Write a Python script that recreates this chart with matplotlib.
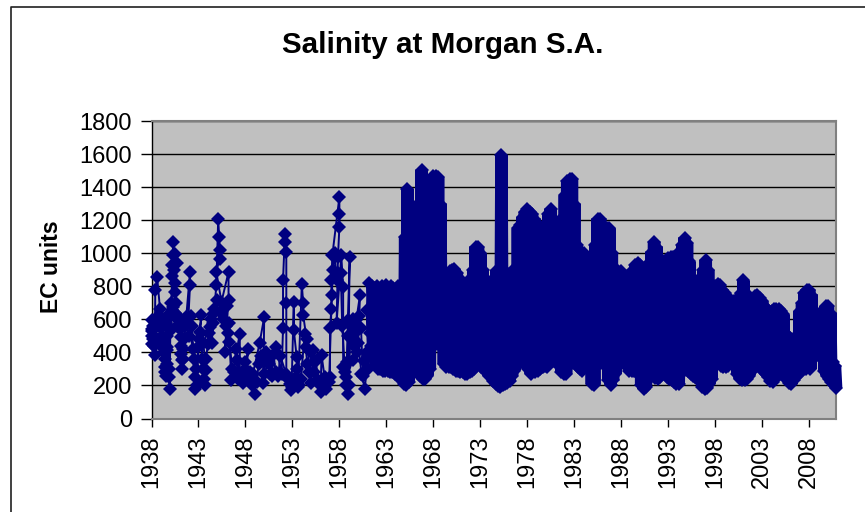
#!/usr/bin/env python3
# -*- coding: utf-8 -*-
import numpy as np
import matplotlib
matplotlib.use("Agg")
import matplotlib.pyplot as plt
from matplotlib.lines import Line2D

plt.rcParams['font.family'] = ['Liberation Sans', 'DejaVu Sans']

navy = '#000080'

# early readings, spaced out enough to see single points
early_years = [1938.0, 1938.1, 1938.15, 1938.35, 1938.4, 1938.6, 1938.9, 1939.0, 1939.2, 1939.4,
               1939.5, 1939.7, 1939.85, 1939.95, 1940.0, 1940.1, 1940.3, 1940.45, 1940.2, 1940.7,
               1940.55, 1940.25, 1940.15, 1940.7, 1941.1, 1941.2, 1941.7, 1942.1, 1942.1, 1941.9,
               1942.4, 1942.6, 1943.3, 1943.15, 1943.7, 1943.85, 1943.5, 1944.2, 1944.55, 1944.4,
               1944.9, 1945.1, 1945.2, 1945.25, 1945.25, 1944.9, 1945.45, 1946.2, 1946.2, 1945.8,
               1946.2, 1946.5, 1947.4, 1947.4, 1947.05, 1947.75, 1948.3, 1948.1, 1949.0, 1948.8,
               1949.5, 1950.0, 1949.9, 1950.4, 1950.6, 1951.3, 1951.85, 1952.0, 1952.0, 1952.2,
               1952.2, 1952.35, 1952.35, 1952.35, 1952.9, 1953.15, 1953.15, 1953.45, 1953.6, 1954.0,
               1954.15, 1954.15, 1954.5, 1955.0, 1955.2, 1956.0, 1956.1, 1956.6, 1957.0, 1957.0,
               1957.15, 1957.15, 1957.25, 1958.0, 1958.0, 1958.0, 1957.85, 1957.7, 1958.2, 1958.4,
               1958.4, 1958.9, 1959.1, 1958.9, 1958.75, 1959.45, 1959.8, 1960.2, 1960.0, 1960.35,
               1960.7, 1961.05, 1960.9, 1961.2]
early_ec = [595, 530, 480, 385, 776, 857, 665, 495, 600, 312,
            575, 413, 250, 180, 535, 535, 1069, 998, 928, 938,
            766, 675, 655, 600, 494, 353, 615, 887, 807, 575,
            423, 181, 625, 525, 200, 292, 454, 555, 635, 454,
            807, 1210, 1100, 1018, 968, 887, 706, 887, 716, 403,
            575, 232, 514, 250, 353, 212, 423, 292, 151, 272,
            454, 615, 212, 363, 272, 434, 272, 545, 837, 1115,
            1069, 1008, 696, 272, 171, 706, 535, 373, 191, 811,
            696, 625, 484, 212, 413, 161, 383, 181, 252, 545,
            665, 837, 988, 1341, 1236, 1160, 978, 575, 988, 797,
            313, 151, 978, 595, 252, 353, 595, 750, 454, 272,
            181, 373, 656, 817]

# the clumps between the peaks in the same years
clump_years = [1938.0, 1938.05, 1938.1, 1938.2, 1938.25, 1938.3, 1938.5, 1938.7, 1938.8, 1939.0, 1939.1,
               1939.3, 1939.35, 1939.4, 1939.45, 1939.55, 1939.6, 1939.65, 1939.7, 1939.75, 1939.85,
               1940.0, 1940.1, 1940.2, 1940.25, 1940.35, 1940.45, 1940.55, 1940.6, 1940.7, 1940.8, 1940.9,
               1941.0, 1941.1, 1941.15, 1941.2, 1941.3, 1941.4, 1941.5, 1941.6,
               1942.0, 1942.2, 1942.3, 1942.5, 1942.6, 1942.75, 1942.85, 1943.0, 1943.1, 1943.3, 1943.4,
               1943.5, 1943.6, 1943.8, 1944.0, 1944.1, 1944.3, 1944.5, 1944.7,
               1945.0, 1945.4, 1945.6, 1945.9, 1946.0, 1946.1, 1946.3, 1946.6, 1946.8,
               1947.0, 1947.2, 1947.6, 1947.9, 1948.0, 1948.3, 1948.5, 1948.7, 1949.2, 1949.4, 1949.7,
               1950.0, 1950.2, 1950.5, 1950.8, 1951.0, 1951.2, 1951.5, 1951.7,
               1952.5, 1952.7, 1953.0, 1953.4, 1953.5, 1953.7, 1953.9,
               1954.3, 1954.4, 1954.6, 1954.8, 1955.0, 1955.3, 1955.5, 1955.7, 1955.9, 1956.3, 1956.5, 1956.9,
               1957.2, 1957.3, 1957.5, 1957.7, 1957.9, 1958.15, 1958.3, 1958.6, 1958.7, 1958.8, 1958.95, 1959.0,
               1959.2, 1959.3, 1959.5, 1959.6, 1959.7, 1959.9, 1960.1, 1960.3, 1960.5, 1960.6, 1960.9, 1961.0,
               1961.3, 1961.4]
clump_ec = [540, 500, 450, 560, 500, 440, 590, 620, 560, 440, 470,
            460, 400, 360, 280, 260, 330, 430, 500, 560, 300,
            640, 700, 860, 990, 900, 820, 640, 700, 560, 620, 600,
            540, 440, 390, 300, 420, 360, 480, 560,
            500, 620, 560, 360, 250, 300, 200, 430, 480, 520, 360,
            300, 240, 360, 450, 520, 600, 580, 660,
            720, 640, 600, 560, 680, 520, 460, 300, 280,
            420, 240, 260, 300, 340, 250, 280, 200, 220, 330, 380,
            270, 400, 330, 260, 390, 280, 260, 380,
            240, 210, 190, 250, 300, 200, 240,
            510, 430, 330, 280, 400, 280, 350, 230, 200, 200, 250, 220,
            750, 900, 1000, 840, 880, 880, 560, 280, 200, 340, 500, 200,
            560, 480, 600, 440, 520, 400, 620, 550, 260, 350, 400, 300,
            520, 440]

# from 1961.5 the points overlap into a solid band, so quarterly top and bottom of it
band_start = 1961.5
band_high = [800, 790,
             800, 780, 800, 790,
             810, 790, 800, 790,
             780, 800, 800, 800,
             1100, 1390, 1280, 1290,
             1240, 1280, 1300, 1505,
             1300, 1350, 1350, 1440,
             1470, 1470, 1460, 1300,
             880, 880, 870, 890,
             900, 905, 880, 850,
             780, 700, 720, 720,
             850, 900, 1040, 1040,
             1000, 900, 850, 800,
             800, 760, 800, 900,
             900, 1595, 900, 850,
             800, 850, 900, 900,
             1150, 1170, 1220, 1250,
             1265, 1250, 1240, 1210,
             1180, 1100, 1100, 1100,
             1100, 1240, 1270, 1200,
             1100, 1100, 1200, 1150,
             1350, 1440, 1450, 1450,
             1300, 1050, 1000, 1000,
             1000, 900, 800, 800,
             950, 1050, 1210, 1210,
             1050, 1050, 1150, 1150,
             1000, 900, 900, 880,
             890, 820, 810, 820,
             880, 900, 930, 940,
             930, 910, 900, 930,
             930, 1010, 1070, 1040,
             950, 950, 950, 960,
             970, 980, 975, 980,
             1000, 950, 1050, 1095,
             1060, 950, 850, 840,
             830, 790, 850, 900,
             960, 900, 800, 800,
             800, 815, 810, 780,
             760, 740, 680, 690,
             710, 700, 700, 760,
             835, 760, 660, 680,
             710, 740, 745, 730,
             710, 680, 660, 650,
             650, 660, 660, 665,
             650, 630, 510, 500,
             490, 480, 470, 480,
             650, 700, 760, 780,
             780, 750, 650, 620,
             630, 600, 640, 680,
             680, 640, 340, 320]
band_low = [400, 330,
            300, 300, 290, 290,
            290, 280, 280, 270,
            260, 250, 230, 210,
            200, 220, 300, 340,
            340, 300, 260, 240,
            240, 260, 300, 450,
            450, 450, 450, 430,
            330, 310, 310, 310,
            300, 290, 285, 280,
            280, 270, 270, 280,
            290, 300, 330, 420,
            310, 300, 280, 260,
            250, 225, 210, 195,
            190, 200, 210, 215,
            225, 260, 290, 380,
            400, 340, 330, 350,
            300, 270, 285, 280,
            290, 300, 310, 320,
            310, 350, 460, 510,
            340, 320, 280, 270,
            270, 310, 500, 600,
            330, 310, 300, 290,
            310, 340, 300, 210,
            205, 320, 400, 400,
            340, 310, 230, 205,
            230, 270, 350, 360,
            360, 330, 310, 290,
            290, 285, 280, 270,
            200, 180, 190, 260,
            270, 260, 245, 240,
            250, 270, 270, 250,
            240, 230, 220, 210,
            210, 270, 330, 400,
            290, 270, 260, 250,
            240, 220, 190, 180,
            185, 210, 240, 310,
            400, 340, 320, 310,
            310, 320, 340, 370,
            350, 270, 240, 230,
            230, 240, 260, 290,
            320, 350, 320, 300,
            290, 270, 250, 225,
            220, 240, 300, 310,
            290, 260, 230, 215,
            210, 230, 260, 270,
            280, 300, 300, 310,
            300, 360, 370, 390,
            400, 370, 290, 260,
            240, 220, 200, 185]

y_ticks = [0, 200, 400, 600, 800, 1000, 1200, 1400, 1600, 1800]
x_ticks = list(range(1938, 2009, 5))

band_years = band_start + np.arange(len(band_high)) * 0.25
zig_x = np.ravel(np.column_stack([band_years, band_years + 0.125]))
zig_y = np.ravel(np.column_stack([band_high, band_low]))

fig = plt.figure(figsize=(8.65, 5.12), dpi=100)
fig.patch.set_facecolor('white')
# chart border only shows along the top and left of the picture
fig.add_artist(Line2D([10.5 / 865, 10.5 / 865, 1], [0, 1 - 6.5 / 512, 1 - 6.5 / 512],
                      transform=fig.transFigure, color='#202020', linewidth=1.2))

ax = fig.add_axes([151.5 / 865, 1 - 418.5 / 512, (835.7 - 151.5) / 865, (418.5 - 121) / 512])
ax.set_facecolor('#c0c0c0')
ax.set_xlim(1938, 2010.83)
ax.set_ylim(0, 1800)
ax.grid(axis='y', color='black', linewidth=1)
ax.set_axisbelow(True)

marks = dict(color=navy, marker='D', markersize=6.8, markeredgewidth=0, clip_on=False, zorder=3)
ax.plot(early_years, early_ec, linewidth=1.4, **marks)
ax.plot(clump_years, clump_ec, linewidth=1.4, **marks)
# wide stroke stands in for the stacked diamonds of the solid part
ax.plot(zig_x, zig_y, linewidth=9, solid_joinstyle='bevel', solid_capstyle='butt', **marks)

ax.set_xticks(x_ticks)
ax.set_yticks(y_ticks)
ax.tick_params(axis='x', labelsize=17, rotation=90, length=6, width=1, pad=6)
ax.tick_params(axis='y', labelsize=17, length=8, width=1, pad=6)
for side in ['top', 'right', 'bottom']:
    ax.spines[side].set_color('#808080')
    ax.spines[side].set_linewidth(1.5)
ax.spines['left'].set_linewidth(1)

fig.text(443 / 865, 1 - 45 / 512, 'Salinity at Morgan S.A.', fontsize=21.3, fontweight='bold',
         ha='center', va='center')
fig.text(51 / 865, 1 - 267 / 512, 'EC units', fontsize=16.5, fontweight='bold', rotation=90,
         ha='center', va='center')

fig.savefig('out.png', dpi=100)
